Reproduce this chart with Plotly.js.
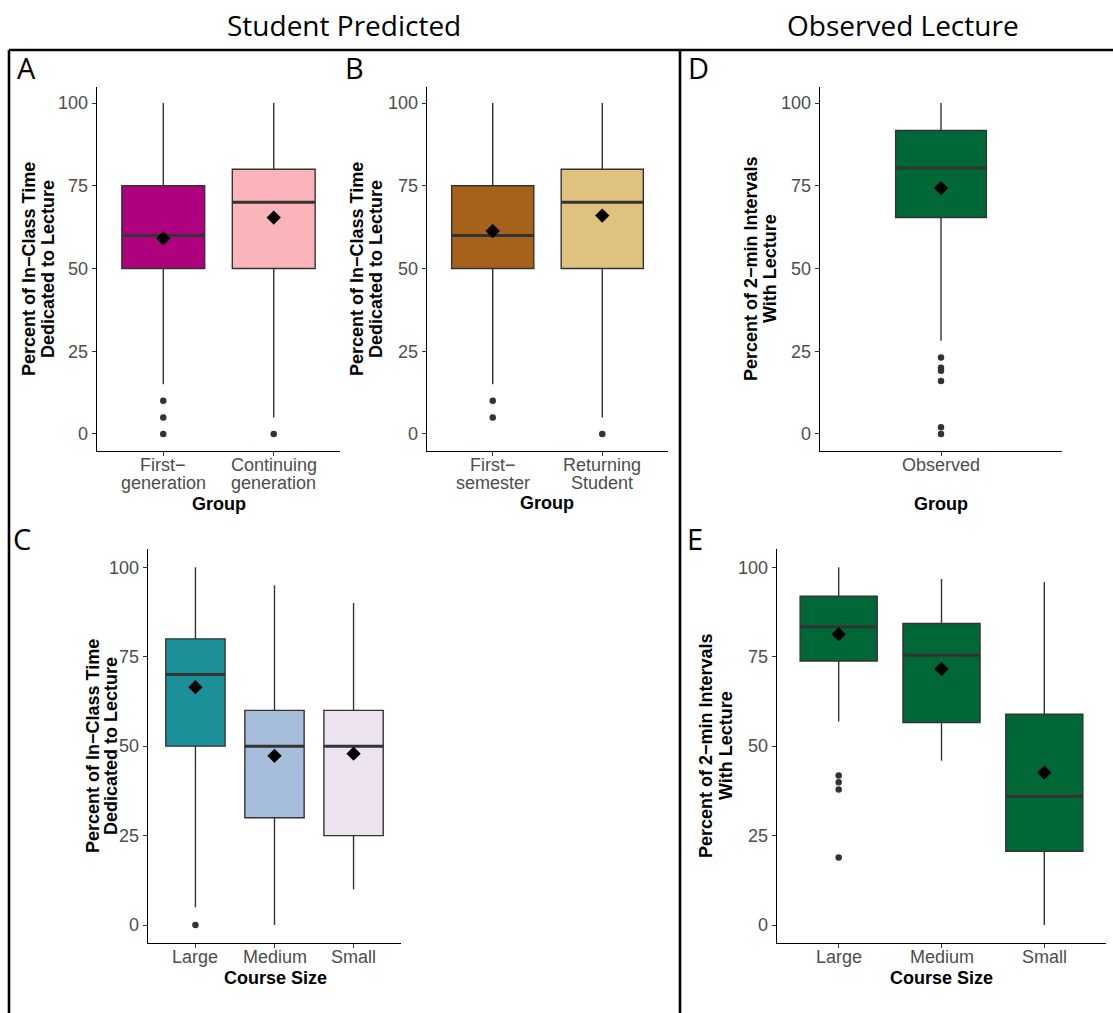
<!DOCTYPE html>
<html><head><meta charset="utf-8">
<script src="https://cdn.plot.ly/plotly-3.0.1.min.js"></script>
<style>html,body{margin:0;padding:0;background:#fff}#chart{width:1113px;height:1013px}</style>
</head><body><div id="chart"></div>
<script>
// ---------- DATA ----------
// Panel A: first-generation status (student predicted)
const catsA = ["First−\ngeneration", "Continuing\ngeneration"];
const colorsA = ["#AE017E", "#FBB4B9"];
const q1A = [50, 50], medA = [60, 70], q3A = [75, 80], lowA = [15, 5], highA = [100, 100];
const meanA = [59.1, 65.4];
const outA_cat = [1, 1, 1, 2], outA_val = [10, 5, 0, 0];

// Panel B: semester status (student predicted)
const catsB = ["First−\nsemester", "Returning\nStudent"];
const colorsB = ["#A6611A", "#DFC27D"];
const q1B = [50, 50], medB = [60, 70], q3B = [75, 80], lowB = [15, 5], highB = [100, 100];
const meanB = [61.3, 66.0];
const outB_cat = [1, 1, 2], outB_val = [10, 5, 0];

// Panel C: course size (student predicted)
const catsC = ["Large", "Medium", "Small"];
const colorsC = ["#1C9099", "#A6BDDB", "#ECE2F0"];
const q1C = [50, 30, 25], medC = [70, 50, 50], q3C = [80, 60, 60], lowC = [5, 0, 10], highC = [100, 95, 90];
const meanC = [66.5, 47.3, 47.9];
const outC_cat = [1], outC_val = [0];

// Panel D: observed lecture
const catsD = ["Observed"];
const colorsD = ["#006837"];
const q1D = [65.4], medD = [80.4], q3D = [91.7], lowD = [28.2], highD = [100];
const meanD = [74.3];
const outD_cat = [1, 1, 1, 1, 1, 1], outD_val = [23.1, 20.0, 19.1, 16.0, 2.0, 0];

// Panel E: observed lecture by course size
const catsE = ["Large", "Medium", "Small"];
const colorsE = ["#006837", "#006837", "#006837"];
const q1E = [73.8, 56.6, 20.6], medE = [83.4, 75.4, 35.9], q3E = [91.9, 84.3, 58.9];
const lowE = [56.9, 45.9, 0], highE = [100, 96.7, 95.9];
const meanE = [81.3, 71.6, 42.6];
const outE_cat = [1, 1, 1, 1], outE_val = [41.8, 39.9, 37.9, 18.9];

const yTicks = [0, 25, 50, 75, 100];

// ---------- LAYOUT HELPERS ----------
const W = 1113, H = 1013;
const px = v => v / W;
const py = v => 1 - v / H;

const panels = [
  {id: "", cats: catsA, colors: colorsA, q1: q1A, med: medA, q3: q3A, low: lowA, high: highA, mean: meanA, oc: outA_cat, ov: outA_val, dx: [97, 340], dy: [86.5, 450.5], bw: 0.75, labY: 465, labGap: 18},
  {id: "2", cats: catsB, colors: colorsB, q1: q1B, med: medB, q3: q3B, low: lowB, high: highB, mean: meanB, oc: outB_cat, ov: outB_val, dx: [427, 668], dy: [86.5, 450.5], bw: 0.75, labY: 465, labGap: 18},
  {id: "3", cats: catsC, colors: colorsC, q1: q1C, med: medC, q3: q3C, low: lowC, high: highC, mean: meanC, oc: outC_cat, ov: outC_val, dx: [148, 401], dy: [549.4, 942.9], bw: 0.75, labY: 957, labGap: 18},
  {id: "4", cats: catsD, colors: colorsD, q1: q1D, med: medD, q3: q3D, low: lowD, high: highD, mean: meanD, oc: outD_cat, ov: outD_val, dx: [820, 1062], dy: [86.5, 450.5], bw: 0.45, labY: 465, labGap: 18},
  {id: "5", cats: catsE, colors: colorsE, q1: q1E, med: medE, q3: q3E, low: lowE, high: highE, mean: meanE, oc: outE_cat, ov: outE_val, dx: [777, 1106], dy: [549.4, 942.9], bw: 0.75, labY: 957, labGap: 18}
];

const traces = [];
const layout = {
  width: W, height: H,
  margin: {l: 0, r: 0, t: 0, b: 0},
  paper_bgcolor: "#ffffff", plot_bgcolor: "#ffffff",
  showlegend: false,
  annotations: [], shapes: []
};

const sansFam = "'Liberation Sans', Arial, Helvetica, sans-serif";
const tickFont = {family: sansFam, size: 18, color: "#4D4D4D"};

panels.forEach(p => {
  const xa = "x" + p.id, ya = "y" + p.id;
  const n = p.cats.length;
  const pos = p.cats.map((c, i) => i + 1);
  p.cats.forEach((c, i) => {
    traces.push({
      type: "box", xaxis: xa, yaxis: ya,
      x: [pos[i]], q1: [p.q1[i]], median: [p.med[i]], q3: [p.q3[i]],
      lowerfence: [p.low[i]], upperfence: [p.high[i]],
      width: p.bw, fillcolor: p.colors[i],
      line: {color: "#333333", width: 1.4},
      whiskerwidth: 0, boxpoints: false, hoverinfo: "skip"
    });
    // thicker median line (ggplot style)
    traces.push({
      type: "scatter", mode: "lines", xaxis: xa, yaxis: ya,
      x: [pos[i] - p.bw / 2, pos[i] + p.bw / 2], y: [p.med[i], p.med[i]],
      line: {color: "#333333", width: 3}, hoverinfo: "skip"
    });
    // category tick label lines (tight ggplot line height)
    c.split("\n").forEach((ln, k) => {
      layout.annotations.push({
        text: ln, xref: xa, x: pos[i], yref: "paper", y: py(p.labY + k * p.labGap),
        showarrow: false, font: tickFont, xanchor: "center", yanchor: "middle"
      });
    });
  });
  // outliers
  traces.push({
    type: "scatter", mode: "markers", xaxis: xa, yaxis: ya,
    x: p.oc, y: p.ov,
    marker: {symbol: "circle", size: 6.5, color: "#333333"}, hoverinfo: "skip"
  });
  // means
  traces.push({
    type: "scatter", mode: "markers", xaxis: xa, yaxis: ya,
    x: pos, y: p.mean,
    marker: {symbol: "diamond", size: 11, color: "#000000"}, hoverinfo: "skip"
  });

  layout["xaxis" + p.id] = {
    domain: [px(p.dx[0]), px(p.dx[1])], anchor: ya,
    range: [0.4, n + 0.6], tickvals: pos, showticklabels: false,
    showline: true, linecolor: "#000000", linewidth: 1.3,
    ticks: "outside", ticklen: 4, tickwidth: 1, tickcolor: "#333333",
    showgrid: false, zeroline: false, fixedrange: true
  };
  layout["yaxis" + p.id] = {
    domain: [py(p.dy[1]), py(p.dy[0])], anchor: xa,
    range: [-5, 105], tickvals: yTicks, ticktext: yTicks.map(String),
    showline: true, linecolor: "#000000", linewidth: 1.3,
    ticks: "outside", ticklen: 4, tickwidth: 1, tickcolor: "#333333",
    showgrid: false, zeroline: false, tickfont: tickFont, fixedrange: true
  };
});

// ---------- TEXT ----------
const headFont = {family: "'Open Sans', 'Noto Sans', sans-serif", size: 28, color: "#000000"};
const letterFont = {family: "'Open Sans', 'Noto Sans', sans-serif", size: 29, color: "#000000"};
const titleFont = {family: sansFam, size: 18, color: "#000000", weight: "bold"};

function ann(text, x, y, font, opts) {
  layout.annotations.push(Object.assign({
    text: text, x: px(x), y: py(y), xref: "paper", yref: "paper",
    showarrow: false, font: font, xanchor: "center", yanchor: "middle"
  }, opts || {}));
}

ann("Student Predicted", 344, 25, headFont);
ann("Observed Lecture", 903, 25, headFont);

ann("A", 15, 68, letterFont, {xanchor: "left"});
ann("B", 343, 68, letterFont, {xanchor: "left"});
ann("D", 686, 68, letterFont, {xanchor: "left"});
ann("C", 11, 538, letterFont, {xanchor: "left"});
ann("E", 685, 538, letterFont, {xanchor: "left"});

const yTitleStudent = ["Percent of In−Class Time", "Dedicated to Lecture"];
const yTitleObserved = ["Percent of 2−min Intervals", "With Lecture"];
function yTitle(lines, x1, x2, yc) {
  ann("<b>" + lines[0] + "</b>", x1, yc, titleFont, {textangle: -90});
  ann("<b>" + lines[1] + "</b>", x2, yc, titleFont, {textangle: -90});
}
yTitle(yTitleStudent, 29, 48, 269);
yTitle(yTitleStudent, 357, 376, 269);
yTitle(yTitleObserved, 751, 770, 269);
yTitle(yTitleStudent, 93, 111, 746);
yTitle(yTitleObserved, 706, 726, 746);

ann("<b>Group</b>", 218.5, 504, titleFont);
ann("<b>Group</b>", 547, 503, titleFont);
ann("<b>Group</b>", 941, 504, titleFont);
ann("<b>Course Size</b>", 275, 978, titleFont);
ann("<b>Course Size</b>", 941.5, 978, titleFont);

// ---------- BORDERS ----------
function line(x0, y0, x1, y1) {
  layout.shapes.push({type: "line", xref: "paper", yref: "paper",
    x0: px(x0), y0: py(y0), x1: px(x1), y1: py(y1),
    line: {color: "#000000", width: 2.6}});
}
line(9, 50, 1113, 50);
line(9, 50, 9, 1013);
line(680, 50, 680, 1013);

Plotly.newPlot("chart", traces, layout, {staticPlot: true, displayModeBar: false});
</script></body></html>
